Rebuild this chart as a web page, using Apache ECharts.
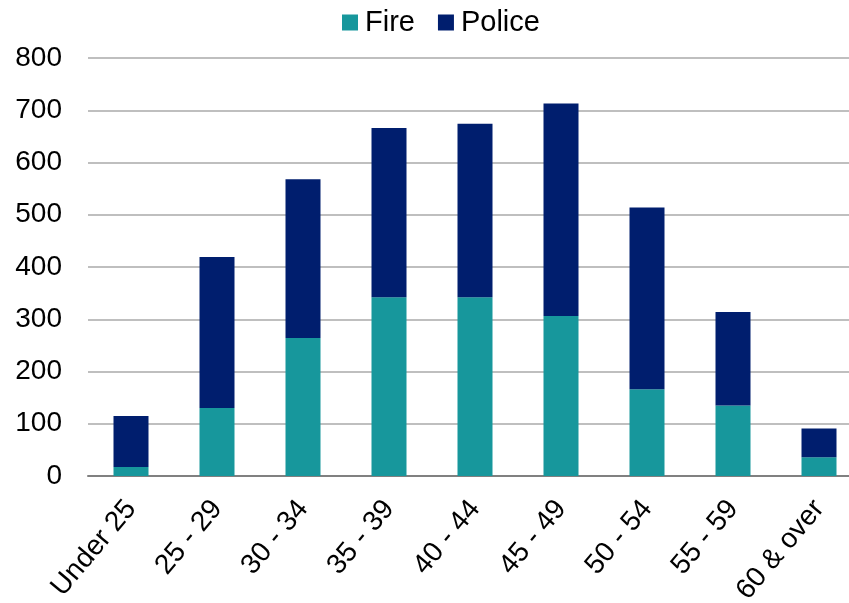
<!DOCTYPE html>
<html>
<head>
<meta charset="utf-8">
<script src="https://cdn.jsdelivr.net/npm/echarts@6/dist/echarts.min.js"></script>
<style>
html,body{margin:0;padding:0;background:#fff;}
#chart{width:849px;height:603px;}
</style>
</head>
<body>
<div id="chart"></div>
<script>
var categories = ['Under 25', '25 - 29', '30 - 34', '35 - 39', '40 - 44', '45 - 49', '50 - 54', '55 - 59', '60 & over'];
var fireValues = [17, 130, 264, 342, 342, 306, 166, 135, 36];
var totalValues = [115, 419, 568, 666, 674, 713, 514, 314, 91];
var policeValues = totalValues.map(function (t, i) { return t - fireValues[i]; });
var yTicks = [0, 100, 200, 300, 400, 500, 600, 700, 800];

var chart = echarts.init(document.getElementById('chart'), null, {renderer: 'canvas'});
var font = 'Liberation Sans, Arial, sans-serif';
chart.setOption({
  animation: false,
  backgroundColor: '#ffffff',
  legend: {
    top: 3,
    left: 337,
    itemWidth: 16,
    itemHeight: 16,
    itemGap: 23,
    icon: 'rect',
    textStyle: {fontFamily: font, fontSize: 29, color: '#000', padding: [0, 0, 0, 2]},
    data: ['Fire', 'Police']
  },
  grid: {left: 88, width: 774, top: 58, bottom: 127, containLabel: false, outerBoundsMode: 'none'},
  xAxis: {
    type: 'category',
    data: categories,
    axisTick: {show: false},
    axisLine: {lineStyle: {color: '#808080', width: 2}},
    axisLabel: {rotate: 50, fontFamily: font, fontSize: 28, color: '#000', margin: 28, interval: 0}
  },
  yAxis: {
    type: 'value',
    min: yTicks[0],
    max: yTicks[yTicks.length - 1],
    interval: 100,
    axisLine: {show: false},
    axisTick: {show: false},
    splitLine: {lineStyle: {color: '#BFBFBF', width: 2}},
    axisLabel: {fontFamily: font, fontSize: 28, color: '#000', margin: 26}
  },
  series: [
    {name: 'Fire', type: 'bar', stack: 'a', data: fireValues, barWidth: 35,
     itemStyle: {color: '#17979C'}},
    {name: 'Police', type: 'bar', stack: 'a', data: policeValues, barWidth: 35,
     itemStyle: {color: '#001E6E'}}
  ]
});
</script>
</body>
</html>
